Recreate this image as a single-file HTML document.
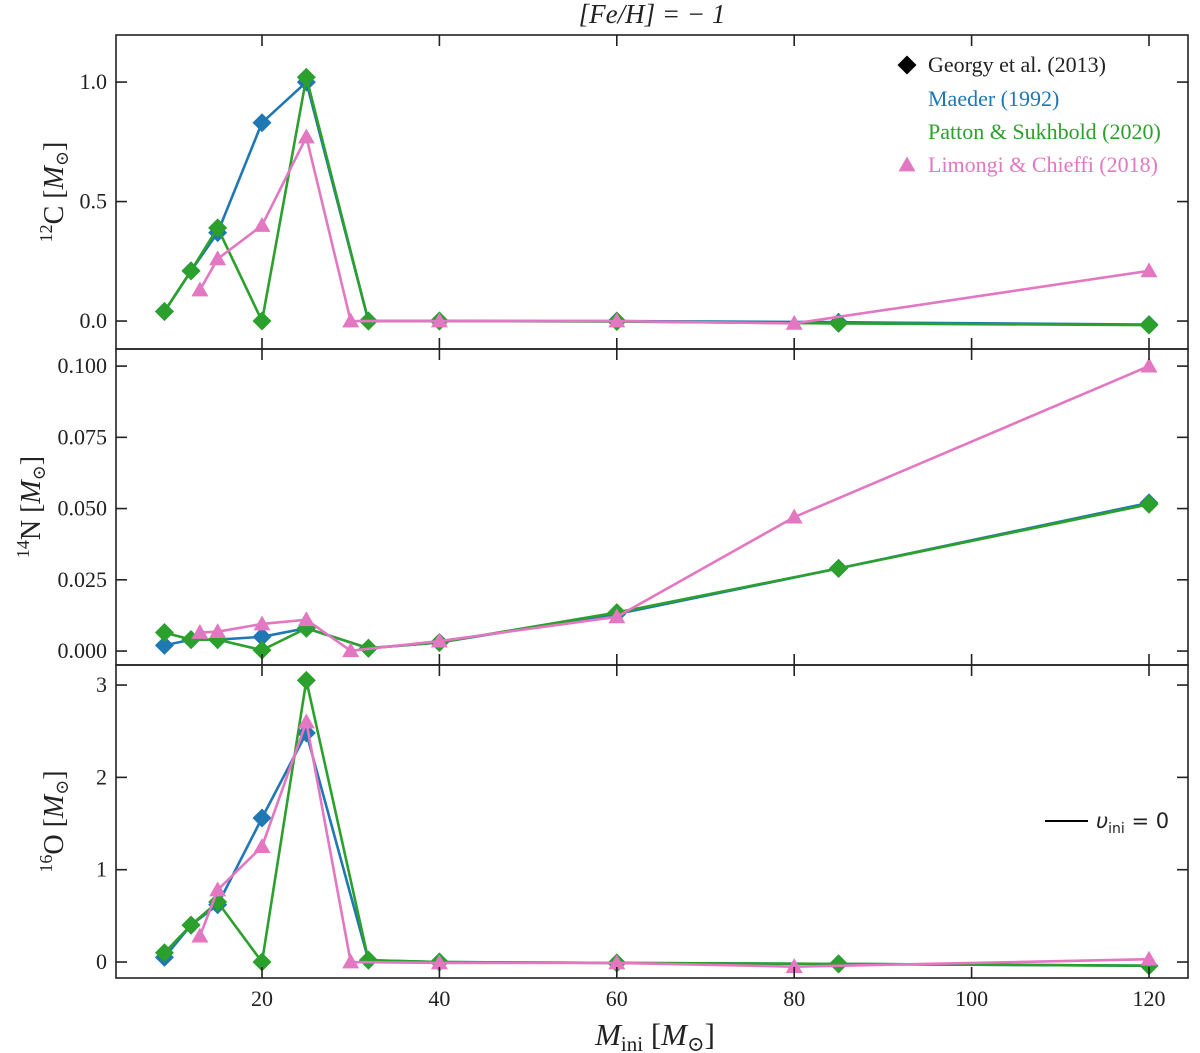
<!DOCTYPE html>
<html><head><meta charset="utf-8"><style>
body{margin:0;background:#fff}
svg{display:block}
text{font-family:"Liberation Serif","DejaVu Serif",serif;fill:#222}
</style></head><body>
<svg id="c" width="1200" height="1053" viewBox="0 0 1200 1053"></svg>
<script>
const massBlue=[9,12,15,20,25,32,40,60,85,120];
const massGreen=[9,12,15,20,25,32,40,60,85,120];
const massPink=[13,15,20,25,30,40,60,80,120];
const cBlue=[0.04,0.21,0.37,0.83,1.0,0.0,0.0,0.0,-0.005,-0.015];
const cGreen=[0.04,0.21,0.39,0.0,1.02,0.0,0.0,-0.002,-0.01,-0.017];
const cPink=[0.13,0.26,0.40,0.77,0.0,0.0,0.0,-0.01,0.21];
const nBlue=[0.002,0.004,0.004,0.005,0.008,0.001,0.003,0.013,0.029,0.052];
const nGreen=[0.0065,0.004,0.004,0.0003,0.008,0.001,0.003,0.0135,0.029,0.0515];
const nPink=[0.0065,0.0068,0.0095,0.011,0.0001,0.0035,0.012,0.047,0.100];
const oBlue=[0.05,0.40,0.62,1.56,2.48,0.02,0.0,-0.01,-0.02,-0.04];
const oGreen=[0.1,0.40,0.65,0.0,3.05,0.02,0.0,-0.01,-0.02,-0.04];
const oPink=[0.28,0.78,1.25,2.6,0.0,-0.01,-0.01,-0.05,0.03];
const xTicks=[20,40,60,80,100,120];
const cTicks=[0,0.5,1.0], cTickLabels=["0.0","0.5","1.0"];
const nTicks=[0,0.025,0.05,0.075,0.1], nTickLabels=["0.000","0.025","0.050","0.075","0.100"];
const oTicks=[0,1,2,3], oTickLabels=["0","1","2","3"];

const svg=document.getElementById('c');
const NS='http://www.w3.org/2000/svg';
function mk(t,a,p){const e=document.createElementNS(NS,t);for(const k in a)e.setAttribute(k,a[k]);(p||svg).appendChild(e);return e;}
const L=116,R=1188;
const xs=v=>84.6+(v)*8.87;
const BLUE='#1f77b4',GREEN='#2ca02c',PINK='#e377c2';
const panels=[
 {top:35,bot:349,ymin:-0.117,ymax:1.197,ticks:cTicks,labels:cTickLabels,name:'carbon',lab:['12','C'],tx:63,series:[cBlue,cGreen,cPink]},
 {top:349,bot:665,ymin:-0.0049,ymax:0.106,ticks:nTicks,labels:nTickLabels,name:'nitrogen',lab:['14','N'],tx:40,series:[nBlue,nGreen,nPink]},
 {top:665,bot:978,ymin:-0.173,ymax:3.217,ticks:oTicks,labels:oTickLabels,name:'oxygen',lab:['16','O'],tx:63,series:[oBlue,oGreen,oPink]}];
function diamond(g,x,y,col,name){const s=9.5;const e=mk('polygon',{points:`${x},${y-s} ${x+s},${y} ${x},${y+s} ${x-s},${y}`,fill:col},g);}
function tri(g,x,y,col,name){const s=8.5;const e=mk('polygon',{points:`${x},${y-s} ${x+s},${y+s*0.75} ${x-s},${y+s*0.75}`,fill:col},g);}
panels.forEach(p=>{
 const ys=v=>p.bot-(v-p.ymin)/(p.ymax-p.ymin)*(p.bot-p.top);
 const g=mk('g',{});
 const sets=[[massBlue,p.series[0],BLUE,'maeder'],[massGreen,p.series[1],GREEN,'patton'],[massPink,p.series[2],PINK,'limongi']];
 sets.forEach(([m,v,col,nm])=>{
  const pl=mk('polyline',{points:m.map((x,i)=>xs(x)+','+ys(v[i])).join(' '),fill:'none',stroke:col,'stroke-width':2.6},g);
  
  m.forEach((x,i)=>{ if(nm==='limongi')tri(g,xs(x),ys(v[i]),col,p.name+'-'+nm+'-point'); else diamond(g,xs(x),ys(v[i]),col,p.name+'-'+nm+'-point');});
 });
 mk('rect',{x:L,y:p.top,width:R-L,height:p.bot-p.top,fill:'none',stroke:'#222','stroke-width':1.6},g);
 p.ticks.forEach((t,i)=>{const y=ys(t);
  mk('line',{x1:L,x2:L+11,y1:y,y2:y,stroke:'#222','stroke-width':1.6},g);
  mk('line',{x1:R,x2:R-11,y1:y,y2:y,stroke:'#222','stroke-width':1.6},g);
  const tx=mk('text',{x:L-9,y:y+7,'text-anchor':'end','font-size':22},g);tx.textContent=p.labels[i];
  });
 xTicks.forEach(t=>{const x=xs(t);
  mk('line',{x1:x,x2:x,y1:p.bot,y2:p.bot-11,stroke:'#222','stroke-width':1.6},g);
  mk('line',{x1:x,x2:x,y1:p.top,y2:p.top+11,stroke:'#222','stroke-width':1.6},g);});
 const cy=(p.top+p.bot)/2;
 const yl=mk('text',{transform:`translate(${p.tx},${cy}) rotate(-90)`,'text-anchor':'middle','font-size':28},g);
 yl.innerHTML=`<tspan font-size="18" dy="-11">${p.lab[0]}</tspan><tspan dy="11">${p.lab[1]} [</tspan><tspan font-style="italic">M</tspan><tspan font-size="18" dy="5">⊙</tspan><tspan dy="-5">]</tspan>`;
 
});
xTicks.forEach(t=>{const tx=mk('text',{x:xs(t),y:1006,'text-anchor':'middle','font-size':22});tx.textContent=t;
 });
const xl=mk('text',{x:655,y:1045,'text-anchor':'middle','font-size':31});
xl.innerHTML='<tspan font-style="italic">M</tspan><tspan font-size="21" dy="6">ini</tspan><tspan dy="-6"> [</tspan><tspan font-style="italic">M</tspan><tspan font-size="21" dy="6">⊙</tspan><tspan dy="-6">]</tspan>';

const tt=mk('text',{x:652,y:23,'text-anchor':'middle','font-size':27,'font-style':'italic'});tt.textContent='[Fe/H] = − 1';

const lg=mk('g',{});
diamond(lg,907,65,'#000','legend-georgy-marker');tri(lg,907,165,PINK,'legend-limongi-marker');
[['Georgy et al. (2013)','#222',72],['Maeder (1992)',BLUE,106],['Patton & Sukhbold (2020)',GREEN,139],['Limongi & Chieffi (2018)',PINK,172]].forEach(([s,c,y])=>{
 const t=mk('text',{x:928,y:y,'font-size':22,fill:c},lg);t.style.fill=c;t.textContent=s;
 });
const l2=mk('g',{});
mk('line',{x1:1045,x2:1088,y1:821,y2:821,stroke:'#000','stroke-width':2},l2);
const t2=mk('text',{x:1096,y:828,'font-size':21,style:'font-family:"DejaVu Sans",sans-serif'},l2);
t2.innerHTML='<tspan font-style="italic">υ</tspan><tspan font-size="14" dy="5">ini</tspan><tspan dy="-5"> = 0</tspan>';

</script>
</body></html>
